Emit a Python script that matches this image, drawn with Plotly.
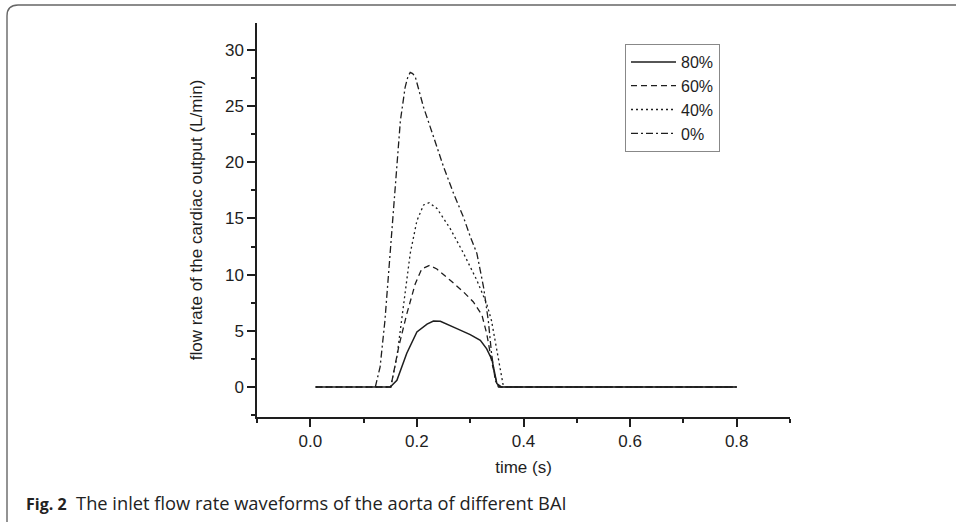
import plotly.graph_objects as go

# ---- data ----
t80 = [0.01, 0.15, 0.1625, 0.181, 0.20, 0.219, 0.231, 0.244, 0.275, 0.30, 0.319, 0.331, 0.341, 0.347, 0.35, 0.359, 0.80]
v80 = [0, 0, 0.6, 3.0, 4.9, 5.6, 5.87, 5.85, 5.2, 4.66, 4.15, 3.4, 2.4, 0.9, 0.3, 0, 0]

t60 = [0.01, 0.151, 0.166, 0.181, 0.197, 0.209, 0.224, 0.2375, 0.2625, 0.2875, 0.306, 0.322, 0.331, 0.341, 0.35, 0.356, 0.80]
v60 = [0, 0, 3.6, 6.5, 9.2, 10.5, 10.83, 10.5, 9.5, 8.46, 7.57, 6.4, 4.75, 2.1, 0.3, 0, 0]

t40 = [0.01, 0.151, 0.1625, 0.175, 0.1875, 0.20, 0.2125, 0.223, 0.2375, 0.2625, 0.2875, 0.3125, 0.331, 0.34, 0.35, 0.359, 0.3625, 0.80]
v40 = [0, 0, 2.7, 7.1, 11.9, 14.8, 16.2, 16.4, 15.9, 14.1, 11.9, 9.5, 7.4, 5.9, 3.3, 0.6, 0, 0]

t0 = [0.122, 0.131, 0.14, 0.15, 0.159, 0.169, 0.178, 0.183, 0.1875, 0.192, 0.197, 0.2125, 0.231, 0.25, 0.269, 0.2875, 0.30, 0.3125, 0.325, 0.334, 0.34, 0.347, 0.353, 0.80]
v0 = [0, 1.8, 5.9, 11.9, 17.8, 23.7, 26.7, 27.6, 28.0, 27.9, 27.6, 24.9, 22.3, 19.6, 17.2, 15.1, 13.4, 11.9, 8.9, 5.9, 3.0, 0.6, 0, 0]

series_names = ["80%", "60%", "40%", "0%"]
x_ticks = [0.0, 0.2, 0.4, 0.6, 0.8]
y_ticks = [0, 5, 10, 15, 20, 25, 30]

# ---- layout geometry (pixels) ----
W, H = 956, 522
L, R, T, B = 257, 790, 23, 417
PW, PH = R - L, B - T

def px(x):
    return (x - L) / PW

def py(y):
    return (B - y) / PH

FONT = "Liberation Sans, Arial, sans-serif"
ink = "#1e1e1e"

dashes = ["solid", "6px,4px", "2px,3px", "7px,3px,2px,3px"]
widths = [1.5, 1.3, 1.3, 1.3]
data = [(t80, v80), (t60, v60), (t40, v40), (t0, v0)]

fig = go.Figure()
for (tx, vy), name, d, w in zip(data, series_names, dashes, widths):
    fig.add_trace(go.Scatter(x=tx, y=vy, mode="lines", name=name,
                             line=dict(color=ink, width=w, dash=d)))

axis_common = dict(showline=True, linecolor=ink, linewidth=1.5, ticks="outside",
                   ticklen=8, tickwidth=1.5, tickcolor=ink, showgrid=False, zeroline=False,
                   tickfont=dict(family=FONT, size=17, color=ink), mirror=False)

fig.update_xaxes(range=[-0.1, 0.9], tickvals=x_ticks, ticktext=[f"{v:.1f}" for v in x_ticks],
                 minor=dict(ticks="outside", ticklen=4, tickwidth=1.5, tickcolor=ink, dtick=0.1, tick0=0),
                 title=dict(text="time (s)", font=dict(family=FONT, size=17, color=ink), standoff=11),
                 **axis_common)
fig.update_yaxes(range=[-2.67, 32.4], tickvals=y_ticks,
                 minor=dict(ticks="outside", ticklen=4, tickwidth=1.5, tickcolor=ink, dtick=2.5, tick0=0),
                 title=dict(text="flow rate of the cardiac output (L/min)",
                            font=dict(family=FONT, size=17, color=ink), standoff=18),
                 **axis_common)

# rounded frame around the figure
x0, y0 = px(7), py(5)
x1, y1 = px(W + 20), py(H + 20)
rx, ry = 11 / PW, 11 / PH
path = (f"M {x1},{y0} L {x0 + rx},{y0} Q {x0},{y0} {x0},{y0 - ry} "
        f"L {x0},{y1}")
fig.add_shape(type="path", path=path, xref="paper", yref="paper",
              line=dict(color="#666666", width=1.4))

fig.add_annotation(text="<b><span style='font-size:16px'>Fig. 2</span></b>  The inlet flow rate waveforms of the aorta of different BAI",
                   xref="paper", yref="paper", x=px(24), y=py(502), xanchor="left", yanchor="middle",
                   showarrow=False, font=dict(family="Open Sans, sans-serif", size=18.3, color="#222"))

fig.update_layout(
    width=W, height=H,
    margin=dict(l=L, r=W - R, t=T, b=H - B, autoexpand=False),
    paper_bgcolor="white", plot_bgcolor="white",
    showlegend=True,
    legend=dict(x=px(625), y=py(44), xanchor="left", yanchor="top",
                bordercolor="#888888", borderwidth=1, bgcolor="white",
                font=dict(family=FONT, size=16, color=ink), itemwidth=45,
                tracegroupgap=0),
)

fig.write_html("out.html", config={"displayModeBar": False},
               post_script="document.body.style.margin='0';document.body.style.overflow='hidden';")
